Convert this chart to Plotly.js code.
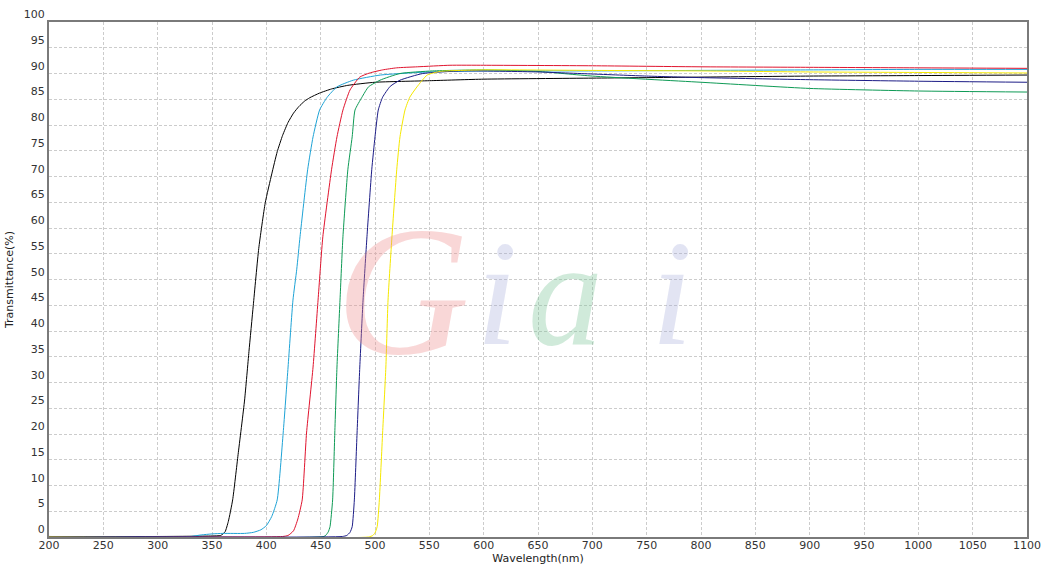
<!DOCTYPE html>
<html>
<head>
<meta charset="utf-8">
<script src="https://cdn.plot.ly/plotly-3.0.1.min.js"></script>
<style>html,body{margin:0;padding:0;background:#fff;}#chart{width:1050px;height:565px;}</style>
</head>
<body>
<div id="chart"></div>
<script>
// Black filter (~380 nm edge)
const wlBlack = [200, 300, 350, 358, 362, 365, 369, 374, 380, 384, 388, 393, 399, 405, 410, 415, 420, 425, 430, 435, 440, 449, 460, 475, 500, 550, 600, 700, 800, 900, 1000, 1100];
const tBlack  = [0.1, 0.1, 0.2, 0.3, 1.0, 3.0, 7.2, 16, 26.6, 36, 45, 56, 64.9, 70.5, 74.8, 78.0, 80.5, 82.3, 83.6, 84.6, 85.3, 86.2, 87, 87.7, 88.3, 88.6, 88.9, 89.1, 89.3, 89.5, 89.6, 89.7];

// Cyan filter (~420 nm edge)
const wlCyan = [200, 330, 340, 350, 360, 380, 388, 395, 400, 405, 410, 415.5, 420, 424.5, 428, 431, 438, 443, 449, 456, 465, 480, 505, 550, 600, 700, 800, 900, 1000, 1100];
const tCyan  = [0.1, 0.1, 0.4, 0.6, 0.7, 0.7, 0.9, 1.4, 2.2, 4.0, 7.2, 20.2, 33, 46, 52, 58.3, 71.3, 77.7, 82.9, 85.4, 87.4, 88.7, 89.7, 90.3, 90.5, 90.5, 90.6, 90.7, 90.8, 90.8];

// Red filter (~450 nm edge)
const wlRed = [200, 415, 420, 425, 429, 433, 437, 443, 447.6, 452, 460, 465, 470.5, 477, 486, 495, 507, 520, 539, 569, 600, 700, 800, 900, 1000, 1100];
const tRed  = [0.1, 0.1, 0.3, 1.2, 3.5, 7.2, 20.2, 33, 46, 58.3, 71.3, 77.7, 82.9, 86.8, 89.3, 90.1, 90.7, 91.1, 91.3, 91.6, 91.6, 91.5, 91.3, 91.2, 91.1, 91.0];

// Green filter (~465 nm edge)
const wlGreen = [200, 453, 455, 457, 458.6, 461, 463, 465, 467.8, 470.5, 475, 479, 481.6, 488, 494, 504.6, 523, 553, 600, 650, 700, 800, 900, 1000, 1100];
const tGreen  = [0.1, 0.1, 0.4, 1.0, 2.0, 7.2, 20.2, 33, 46, 58.3, 71.3, 77.7, 82.9, 85.4, 87.4, 88.7, 90.0, 90.5, 90.7, 90.4, 89.5, 88.3, 87.1, 86.6, 86.4];

// Navy filter (~485 nm edge)
const wlNavy = [200, 470, 474, 477, 479, 481, 483.5, 486, 489, 492.6, 497, 500, 503, 507, 514, 523, 544, 580, 650, 700, 750, 800, 900, 1000, 1100];
const tNavy  = [0.1, 0.1, 0.3, 0.9, 2.0, 7.2, 20.2, 33, 46, 58.3, 71.3, 77.7, 82.9, 85.4, 87.5, 88.7, 90.0, 90.5, 90.3, 89.9, 89.5, 89.2, 88.8, 88.5, 88.3];

// Yellow filter (~510 nm edge)
const wlYellow = [200, 494, 498, 500, 502, 504, 507, 510, 512, 515.6, 520, 523, 527.6, 532, 538.6, 548, 560, 600, 700, 800, 900, 1000, 1100];
const tYellow  = [0.0, 0.0, 0.3, 0.8, 2.0, 7.2, 20.2, 33, 46, 58.3, 71.3, 77.7, 82.9, 85.4, 87.4, 89.7, 90.4, 90.7, 90.6, 90.5, 90.3, 90.2, 90.1];

const xTicks = [200, 250, 300, 350, 400, 450, 500, 550, 600, 650, 700, 750, 800, 850, 900, 950, 1000, 1050, 1100];
const yTicks = [0, 5, 10, 15, 20, 25, 30, 35, 40, 45, 50, 55, 60, 65, 70, 75, 80, 85, 90, 95, 100];

const series = [
  {x: wlBlack, y: tBlack, color: '#000000'},
  {x: wlCyan, y: tCyan, color: '#1ea3d6'},
  {x: wlRed, y: tRed, color: '#e0142e'},
  {x: wlGreen, y: tGreen, color: '#0e9a55'},
  {x: wlNavy, y: tNavy, color: '#1c1c86'},
  {x: wlYellow, y: tYellow, color: '#f5e800'}
];

const traces = series.map(s => ({
  x: s.x, y: s.y, type: 'scatter', mode: 'lines',
  line: {color: s.color, width: 1, shape: 'spline', smoothing: 0.5},
  hoverinfo: 'skip', showlegend: false
}));

const wmFont = (c, sz) => ({family: 'Liberation Serif, DejaVu Serif, serif', size: sz, color: c, style: 'italic'});
const annotations = [
  {text: 'G', x: 0.362, y: 0.478, font: wmFont('rgba(238,140,140,0.35)', 185)},
  {text: 'i', x: 0.458, y: 0.474, font: wmFont('rgba(160,165,215,0.3)', 150)},
  {text: 'a', x: 0.528, y: 0.474, font: wmFont('rgba(120,195,150,0.35)', 150)},
  {text: 'i', x: 0.637, y: 0.474, font: wmFont('rgba(160,165,215,0.3)', 150)}
].map(a => Object.assign({xref: 'paper', yref: 'paper', xanchor: 'center', yanchor: 'middle', showarrow: false}, a));

const layout = {
  width: 1050, height: 565,
  margin: {l: 49, r: 23, t: 22, b: 28},
  paper_bgcolor: '#ffffff', plot_bgcolor: '#ffffff',
  font: {family: 'DejaVu Sans, Verdana, sans-serif', size: 11, color: '#333333'},
  xaxis: {
    range: [200, 1100], tickvals: xTicks, ticktext: xTicks.map(String),
    showgrid: true, gridcolor: '#cccccc', griddash: '3px,2px', gridwidth: 1,
    showline: true, linecolor: '#7a7a7a', linewidth: 2, mirror: true,
    ticks: '', zeroline: false, automargin: false, ticklabelstandoff: -3,
    tickfont: {size: 11, color: '#333333'},
    title: {text: 'Wavelength(nm)', font: {size: 11, color: '#222222'}, standoff: 0}
  },
  yaxis: {
    range: [0, 100], tickvals: yTicks, ticktext: yTicks.map(String),
    showgrid: true, gridcolor: '#cccccc', griddash: '3px,2px', gridwidth: 1,
    showline: true, linecolor: '#7a7a7a', linewidth: 2, mirror: true,
    ticks: '', zeroline: false, automargin: false, ticklabelposition: 'outside top',
    tickfont: {size: 11, color: '#333333'},
    title: {text: 'Transmittance(%)', font: {size: 11, color: '#222222'}, standoff: 8}
  },
  annotations: annotations
};

Plotly.newPlot('chart', traces, layout, {displayModeBar: false, staticPlot: true});
</script>
</body>
</html>
